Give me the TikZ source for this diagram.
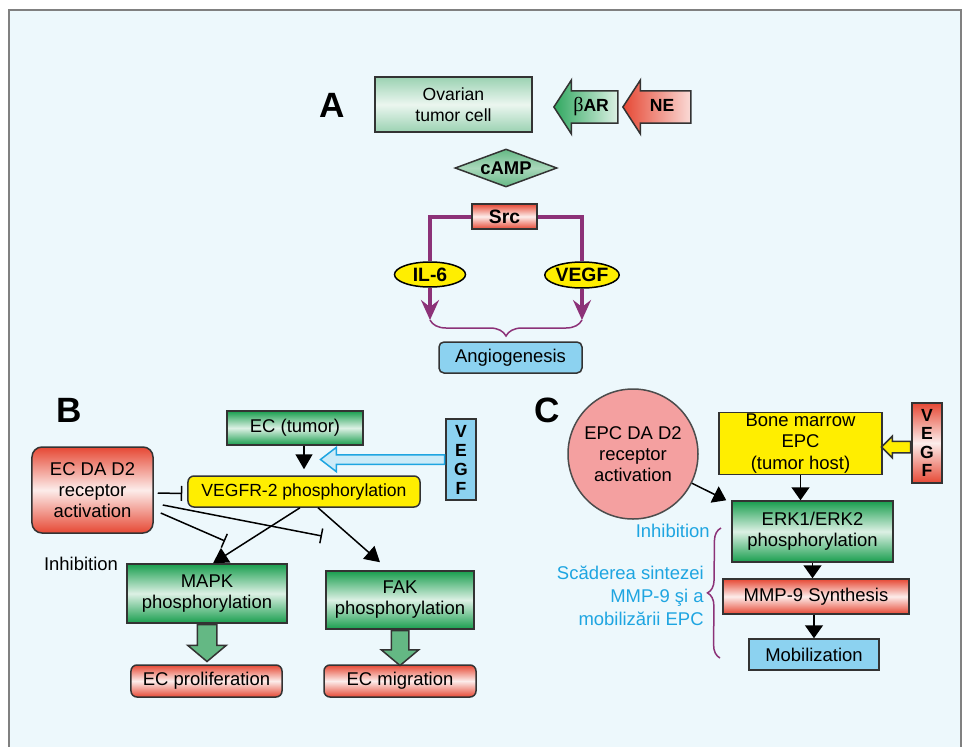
\documentclass[tikz,border=0pt]{standalone}
\usepackage{fontspec}
\setmainfont{Liberation Sans}
\newfontfamily\grfont{Liberation Serif}
\usepackage{tikz}
\usetikzlibrary{arrows.meta,shapes.geometric,shapes.arrows,decorations.pathreplacing}
\definecolor{bgc}{RGB}{237,248,252}
\definecolor{dgreen}{RGB}{25,158,78}
\definecolor{lgreen}{RGB}{155,210,178}
\definecolor{mgreen}{RGB}{100,184,132}
\definecolor{redc}{RGB}{230,72,52}
\definecolor{ylw}{RGB}{255,238,0}
\definecolor{lblue}{RGB}{140,210,240}
\definecolor{pinkc}{RGB}{244,160,160}
\definecolor{purp}{RGB}{140,50,120}
\definecolor{cyant}{RGB}{30,165,225}

\begin{document}
\begin{tikzpicture}[x=0.2mm, y=-0.2mm,
  box/.style={draw=black!80, line width=0.3mm, align=center, inner sep=1pt, font=\fontsize{10.5}{12}\selectfont},
  grbox/.style={box, top color=dgreen, bottom color=dgreen, middle color=dgreen!15},
  rdbox/.style={box, top color=redc, bottom color=redc, middle color=redc!10},
  ltbox/.style={box, top color=lgreen, bottom color=lgreen, middle color=lgreen!20},
  blbox/.style={box, fill=lblue},
  ylbox/.style={box, fill=ylw},
  oval/.style={ellipse, draw=black, line width=0.3mm, fill=ylw, inner sep=0pt, font=\fontsize{11}{13}\selectfont\bfseries},
  lbl/.style={font=\fontsize{20}{24}\selectfont\bfseries},
  ptxt/.style={font=\fontsize{10.5}{12}\selectfont},
  cytxt/.style={font=\fontsize{10.5}{13}\selectfont, text=cyant, inner sep=0pt},
  arr/.style={line width=0.3mm, -{Triangle[length=3mm, width=3.4mm]}},
  arrc/.style={line width=0.3mm, -{Triangle[length=2.6mm, width=3.6mm]}},
  inh/.style={line width=0.3mm, -{Bar[width=3mm]}},
  thk/.style={draw=purp, line width=0.8mm},
  brc/.style={draw=purp, line width=0.3mm, decorate, decoration={brace, amplitude=#1}},
  blk/.style={single arrow, draw=black!80, line width=0.3mm, anchor=tail},
  fat/.style={blk, fill=mgreen, shape border rotate=270, single arrow tip angle=100}]
\useasboundingbox (0,0) rectangle (962,747);
\fill[bgc] (9,10) rectangle (961,747);
\draw[black!50, line width=0.4mm] (9,747) -- (9,10) -- (961,10) -- (961,747);

% A
\node[lbl] (la) at (332,105) {A};
\node[ltbox, minimum width=31.4mm, minimum height=11mm, font=\fontsize{10}{12}\selectfont] (ovar) at (453.5,104.5) {Ovarian\\tumor cell};
\node[blk, anchor=tip, shape border rotate=180, left color=dgreen!90, right color=dgreen!15, text height=7pt, text depth=2pt, inner ysep=4.2pt, inner xsep=2pt, single arrow head extend=2.2mm, single arrow tip angle=114, minimum height=12.8mm, font=\fontsize{10}{12}\selectfont\bfseries] (bar) at (553,107) {{\grfont\mdseries\fontsize{11.5}{12}\selectfont β}AR};
\node[blk, anchor=tip, shape border rotate=180, left color=redc, right color=redc!20, text height=7pt, text depth=2pt, inner ysep=4.2pt, inner xsep=2pt, single arrow head extend=2.2mm, single arrow tip angle=114, minimum height=13.6mm, font=\fontsize{10}{12}\selectfont\bfseries] (ne) at (622,107) {NE};
\node[diamond, aspect=2.7, draw=black!80, line width=0.3mm, top color=mgreen, bottom color=mgreen, middle color=mgreen!55, inner sep=0pt, minimum width=20.4mm, minimum height=7.6mm, font=\fontsize{10.5}{12}\selectfont\bfseries] (camp) at (506,168) {cAMP};
\node[rdbox, minimum width=13mm, minimum height=5mm, font=\fontsize{11}{13}\selectfont\bfseries] (src) at (504.5,216.5) {Src};
\node[oval, minimum width=14.2mm, minimum height=5mm] (ilsix) at (430,274.5) {IL-6};
\node[oval, minimum width=14.2mm, minimum height=5.2mm] (vegfa) at (582,275) {VEGF};
\node[blbox, rounded corners=1mm, minimum width=28.6mm, minimum height=6.2mm] (angio) at (510.5,357.5) {Angiogenesis};
\coordinate (bl) at (430,320);
\coordinate (br) at (582,320);
\draw[thk] (src.west) -| (ilsix.north);
\draw[thk] (src.east) -| (vegfa.north);
\draw[thk, -{Stealth[length=4mm, width=3.6mm, inset=1.4mm]}] (ilsix.south) -- (bl);
\draw[thk, -{Stealth[length=4mm, width=3.6mm, inset=1.4mm]}] (vegfa.south) -- (br);
\draw[brc=3.2mm] (br) -- (bl);

% B
\node[lbl] (lb) at (69,410) {B};
\node[grbox, minimum width=27.2mm, minimum height=6.8mm] (ectum) at (295,428) {EC (tumor)};
\node[blbox, minimum width=6mm, minimum height=16.2mm, font=\fontsize{10}{10.8}\selectfont\bfseries] (vegfb) at (461,459.5) {V\\E\\G\\F};
\node[ylbox, rounded corners=1.2mm, minimum width=46.4mm, minimum height=6.2mm, font=\fontsize{10}{12}\selectfont] (vegfr) at (304,491.5) {VEGFR-2 phosphorylation};
\node[rdbox, rounded corners=2mm, minimum width=24.2mm, minimum height=17.2mm] (ecda) at (92.5,490) {EC DA D2\\receptor\\activation};
\node[ptxt] (inhb) at (81,564) {Inhibition};
\node[grbox, minimum width=32mm, minimum height=11.8mm] (mapk) at (207,593.5) {MAPK\\phosphorylation};
\node[grbox, minimum width=29.6mm, minimum height=11.6mm] (fak) at (400,600) {FAK\\phosphorylation};
\node[rdbox, rounded corners=1.2mm, minimum width=30.2mm, minimum height=6.4mm] (prol) at (206.5,681) {EC proliferation};
\node[rdbox, rounded corners=1.2mm, minimum width=30.4mm, minimum height=6.4mm] (migr) at (400,681) {EC migration};
\node[fat, inner sep=1.8mm, single arrow head extend=1.9mm, minimum height=7.4mm] (mapkarr) at (mapk.south) {};
\node[fat, inner sep=1.6mm, single arrow head extend=2mm, minimum height=7mm] (fakarr) at (fak.south) {};
\node[blk, shape border rotate=180, draw=cyant, fill=lblue!45, inner sep=0.8mm, single arrow head extend=1.5mm, single arrow tip angle=75, minimum height=24.8mm] (vgarr) at (vegfb.west) {};
\coordinate (inm) at (225,541);
\coordinate (inf) at (322,536);
\draw[arr] (ectum.south -| vegfr.north) -- ([yshift=1.2mm]vegfr.north);
\draw[inh] ([xshift=0.8mm, yshift=-0.6mm]ecda.east) -- ([xshift=-1mm, yshift=-0.4mm]vegfr.west);
\draw[inh] ([xshift=1.8mm, yshift=-3mm]ecda.east) -- (inf);
\draw[inh] ([xshift=1.4mm, yshift=-4.6mm]ecda.east) -- (inm);
\draw[arr] ([xshift=-0.8mm]vegfr.south) -- ([xshift=1.2mm]mapk.north);
\draw[arr] ([xshift=2.8mm]vegfr.south) -- ([xshift=-4mm, yshift=1.6mm]fak.north);

% C
\node[lbl] (lc) at (547,410) {C};
\node[circle, draw=black!70, line width=0.3mm, fill=pinkc, minimum size=26mm, align=center, inner sep=0pt, font=\fontsize{10.5}{12}\selectfont] (epc) at (633,454) {EPC DA D2\\receptor\\activation};
\node[ylbox, minimum width=32.6mm, minimum height=12.2mm] (bone) at (800.5,443.5) {Bone marrow\\EPC\\(tumor host)};
\node[rdbox, minimum width=6mm, minimum height=16mm, font=\fontsize{10}{10.4}\selectfont\bfseries] (vegfc) at (927,443) {V\\E\\G\\F};
\node[blk, shape border rotate=180, fill=ylw, inner sep=1mm, single arrow head extend=1mm, single arrow tip angle=90, minimum height=5.8mm] (yarr) at ([yshift=-0.8mm]vegfc.west) {};
\node[grbox, minimum width=32.2mm, minimum height=12.2mm] (erk) at (812.5,531.5) {ERK1/ERK2\\phosphorylation};
\node[rdbox, minimum width=37.2mm, minimum height=7mm] (mmp) at (816,596.5) {MMP-9 Synthesis};
\node[blbox, minimum width=26mm, minimum height=6.2mm] (mob) at (814,654.5) {Mobilization};
\node[cytxt, anchor=east] (inhc) at (710,531) {Inhibition};
\node[cytxt, anchor=east, align=right] (scad) at (704,596) {Scăderea sintezei\\MMP-9 şi a\\mobilizării EPC};
\coordinate (bt) at (721,528);
\coordinate (bb) at (720,658);
\draw[brc=2.6mm] (bb) -- (bt);
\draw[arrc] (bone.south) -- (bone.south |- erk.north);
\draw[arrc] (epc) -- ([xshift=-1mm]erk.north west);
\draw[arrc] (erk.south) -- (erk.south |- mmp.north);
\draw[arrc] (mob.north |- mmp.south) -- (mob.north);
\end{tikzpicture}
\end{document}
